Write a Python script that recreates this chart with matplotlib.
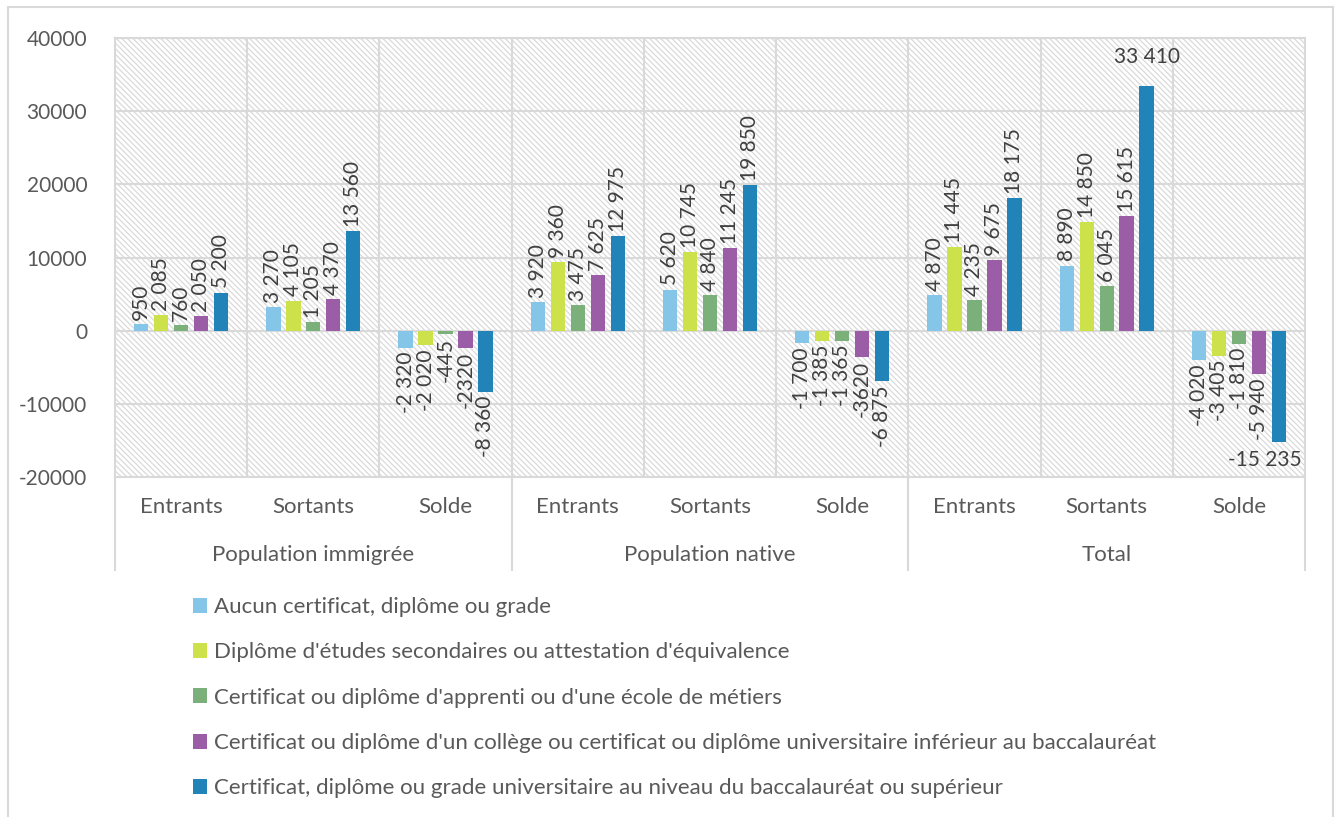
import numpy as np
import matplotlib.pyplot as plt
from matplotlib.patches import Rectangle, Patch
from matplotlib.transforms import blended_transform_factory

plt.rcParams['font.family'] = ['Lato', 'DejaVu Sans']
plt.rcParams['hatch.linewidth'] = 0.9
plt.rcParams['axes.unicode_minus'] = False

# donnees
categories = ['Entrants', 'Sortants', 'Solde'] * 3
groups = ['Population immigrée', 'Population native', 'Total']
series_names = [
    "Aucun certificat, diplôme ou grade",
    "Diplôme d'études secondaires ou attestation d'équivalence",
    "Certificat ou diplôme d'apprenti ou d'une école de métiers",
    "Certificat ou diplôme d'un collège ou certificat ou diplôme universitaire inférieur au baccalauréat",
    "Certificat, diplôme ou grade universitaire au niveau du baccalauréat ou supérieur",
]
aucun = [950, 3270, -2320, 3920, 5620, -1700, 4870, 8890, -4020]
secondaire = [2085, 4105, -2020, 9360, 10745, -1385, 11445, 14850, -3405]
apprenti = [760, 1205, -445, 3475, 4840, -1365, 4235, 6045, -1810]
college = [2050, 4370, -2320, 7625, 11245, -3620, 9675, 15615, -5940]
universitaire = [5200, 13560, -8360, 12975, 19850, -6875, 18175, 33410, -15235]
college_labels = ['2 050', '4 370', '-2320', '7 625', '11 245', '-3620', '9 675', '15 615', '-5 940']
colors = ['#85c5e8', '#cde24a', '#7bb07b', '#9b5da6', '#2183b8']
values = [aucun, secondaire, apprenti, college, universitaire]


def fmt(v):
    s = '{:,}'.format(abs(v)).replace(',', ' ')
    return '-' + s if v < 0 else s


label_sets = [[fmt(v) for v in s] for s in values]
label_sets[3] = college_labels

W, H = 1335, 817
fig = plt.figure(figsize=(W / 100, H / 100), dpi=100)
ax = fig.add_axes([115 / W, 1 - 477 / H, 1190 / W, 439 / H])

grid_c = '#d9d9d9'
ax.add_patch(Rectangle((0, 0), 1, 1, transform=ax.transAxes, facecolor='white',
                       edgecolor='#dadada', hatch='\\' * 6, lw=0, zorder=0))

x = np.arange(len(categories))
slot = 0.151
width = 0.108
lab_fs = 15
for i, (vals, col, name) in enumerate(zip(values, colors, series_names)):
    pos = x + (i - 2) * slot
    ax.bar(pos, vals, width, color=col, zorder=3, label=name)
    for px, v, lab in zip(pos, vals, label_sets[i]):
        if v == 33410:
            ax.annotate(lab, (px, v), xytext=(0, 14), textcoords='offset points',
                        ha='center', va='bottom', fontsize=lab_fs, color='#404040')
        elif v == -15235:
            ax.annotate(lab, (px, v), xytext=(-10, -6), textcoords='offset points',
                        ha='center', va='top', fontsize=lab_fs, color='#404040')
        elif v >= 0:
            ax.annotate(lab, (px, v), xytext=(0, 3), textcoords='offset points',
                        rotation=90, ha='center', va='bottom', fontsize=lab_fs, color='#404040')
        else:
            ax.annotate(lab, (px, v), xytext=(0, -3), textcoords='offset points',
                        rotation=90, ha='center', va='top', fontsize=lab_fs, color='#404040')

ax.set_xlim(-0.5, len(categories) - 0.5)
ax.set_ylim(-20000, 40000)
ax.set_yticks(range(-20000, 40001, 10000))
ax.yaxis.grid(True, color=grid_c, lw=1.5, zorder=1)
for b in np.arange(0.5, len(categories) - 0.5, 1):
    ax.axvline(b, color=grid_c, lw=1.5, zorder=1)
for sp in ax.spines.values():
    sp.set_color(grid_c)
    sp.set_linewidth(1.5)
ax.set_xticks([])
ax.tick_params(axis='y', length=0, pad=20, labelsize=15, labelcolor='#595959')

tr = blended_transform_factory(ax.transData, ax.transAxes)
for xi, c in zip(x, categories):
    ax.text(xi, -0.068, c, transform=tr, ha='center', va='center', fontsize=16, color='#595959')
for g, name in enumerate(groups):
    ax.text(g * 3 + 1, -0.178, name, transform=tr, ha='center', va='center', fontsize=16, color='#595959')
for b in [-0.5, 2.5, 5.5, 8.5]:
    ax.plot([b, b], [0, -0.212], transform=tr, color=grid_c, lw=1.5, clip_on=False)

handles = [Patch(facecolor=c) for c in colors]
leg = fig.legend(handles, series_names, loc='upper left', bbox_to_anchor=(173 / W, 1 - 577 / H),
                 frameon=False, fontsize=16, handlelength=0.65, handleheight=0.65,
                 handletextpad=0.3, labelspacing=1.14, labelcolor='#595959')

fig.add_artist(Rectangle((8 / W, -0.01), (1333 - 8) / W, 1 - 7 / H + 0.01, transform=fig.transFigure,
                         fill=False, edgecolor=grid_c, lw=1.5))

fig.savefig('out.png', dpi=100)
